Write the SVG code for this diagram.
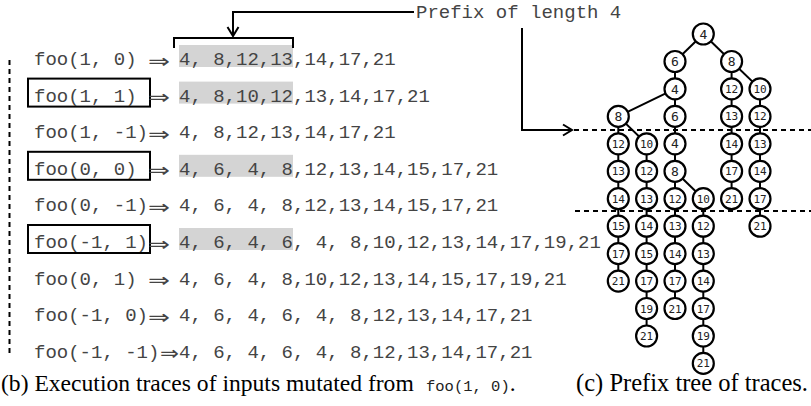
<svg xmlns="http://www.w3.org/2000/svg" width="811" height="406" viewBox="0 0 811 406">
<defs>
<marker id="ah" markerUnits="userSpaceOnUse" markerWidth="14" markerHeight="14" refX="10" refY="6" orient="auto" overflow="visible">
<path d="M1,0.5 L10,6 L1,11.5" fill="none" stroke="#000" stroke-width="2"/>
</marker>
</defs>
<style>
.m{font-family:"Liberation Mono","DejaVu Sans Mono",monospace;font-size:19px;fill:#444}
.ar{font-family:"DejaVu Sans",sans-serif;font-size:20px;fill:#444}
.hl{fill:#d4d4d4}
.bx{fill:none;stroke:#000;stroke-width:2}
.ln{fill:none;stroke:#000;stroke-width:2}
.ds{fill:none;stroke:#000;stroke-width:2;stroke-dasharray:5,4}
.cap{font-family:"Liberation Serif","Times New Roman",serif;font-size:24.5px;fill:#000}
.capb{font-size:23.6px}
.capm{font-family:"Liberation Mono",monospace;font-size:15.5px;fill:#222}
.nd circle{fill:#fff;stroke:#000;stroke-width:2.2}
.nd text{font-family:"DejaVu Sans Mono",monospace;font-size:11px;fill:#222;text-anchor:middle}
.nd text.s{font-size:13px}
.ed line{stroke:#000;stroke-width:2}
</style>

<g id="highlights">
<rect class="hl" x="179" y="45" width="114" height="22"/>
<rect class="hl" x="179" y="81.6" width="114" height="22"/>
<rect class="hl" x="179" y="154.8" width="114" height="22"/>
<rect class="hl" x="179" y="228" width="114" height="22"/>
</g>

<g id="row1"><text class="m" x="34" y="65">foo(1, 0)</text><text class="ar" x="148" y="67.5" textLength="22" lengthAdjust="spacingAndGlyphs">⇒</text><text class="m" x="179" y="65">4, 8,12,13,14,17,21</text></g>
<g id="row2"><rect class="bx" x="28" y="78.6" width="122" height="28"/><text class="m" x="34" y="101.6">foo(1, 1)</text><text class="ar" x="148" y="104.1" textLength="22" lengthAdjust="spacingAndGlyphs">⇒</text><text class="m" x="179" y="101.6">4, 8,10,12,13,14,17,21</text></g>
<g id="row3"><text class="m" x="34" y="138.2">foo(1, -1)</text><text class="ar" x="148" y="140.7" textLength="22" lengthAdjust="spacingAndGlyphs">⇒</text><text class="m" x="179" y="138.2">4, 8,12,13,14,17,21</text></g>
<g id="row4"><rect class="bx" x="28" y="151.8" width="122" height="28"/><text class="m" x="34" y="174.8">foo(0, 0)</text><text class="ar" x="148" y="177.3" textLength="22" lengthAdjust="spacingAndGlyphs">⇒</text><text class="m" x="179" y="174.8">4, 6, 4, 8,12,13,14,15,17,21</text></g>
<g id="row5"><text class="m" x="34" y="211.4">foo(0, -1)</text><text class="ar" x="148" y="213.9" textLength="22" lengthAdjust="spacingAndGlyphs">⇒</text><text class="m" x="179" y="211.4">4, 6, 4, 8,12,13,14,15,17,21</text></g>
<g id="row6"><rect class="bx" x="28" y="225" width="122" height="28"/><text class="m" x="34" y="248">foo(-1, 1)</text><text class="ar" x="148" y="250.5" textLength="22" lengthAdjust="spacingAndGlyphs">⇒</text><text class="m" x="179" y="248">4, 6, 4, 6, 4, 8,10,12,13,14,17,19,21</text></g>
<g id="row7"><text class="m" x="34" y="284.6">foo(0, 1)</text><text class="ar" x="148" y="287.1" textLength="22" lengthAdjust="spacingAndGlyphs">⇒</text><text class="m" x="179" y="284.6">4, 6, 4, 8,10,12,13,14,15,17,19,21</text></g>
<g id="row8"><text class="m" x="34" y="321.2">foo(-1, 0)</text><text class="ar" x="148" y="323.7" textLength="22" lengthAdjust="spacingAndGlyphs">⇒</text><text class="m" x="179" y="321.2">4, 6, 4, 6, 4, 8,12,13,14,17,21</text></g>
<g id="row9"><text class="m" x="34" y="357.8">foo(-1, -1)</text><text class="ar" x="160" y="360.3" textLength="19" lengthAdjust="spacingAndGlyphs">⇒</text><text class="m" x="179" y="357.8">4, 6, 4, 6, 4, 8,12,13,14,17,21</text></g>

<g id="annotations">
<line class="ds" x1="9.5" y1="60" x2="9.5" y2="357" stroke-width="3"/>
<path class="ln" d="M174,48 V38 H293 V48"/>
<path class="ln" d="M414,12 H233 V36" marker-end="url(#ah)"/>
<text class="m" x="416" y="18">Prefix of length 4</text>
<path class="ln" d="M522,28 V130 H572" marker-end="url(#ah)"/>
<line class="ds" x1="574" y1="130" x2="811" y2="130"/>
<line class="ds" x1="575" y1="211" x2="811" y2="211"/>
</g>

<g id="connectors" class="ed">
<line x1="703.3" y1="34" x2="675" y2="61.5"/>
<line x1="703.3" y1="34" x2="731.6" y2="61.5"/>
<line x1="675" y1="61.5" x2="675" y2="88.9"/>
<line x1="675" y1="88.9" x2="618.3" y2="116.4"/>
<line x1="675" y1="88.9" x2="675" y2="116.4"/>
<line x1="731.6" y1="61.5" x2="731.6" y2="88.9"/>
<line x1="731.6" y1="61.5" x2="760" y2="88.9"/>
<line x1="731.6" y1="88.9" x2="731.6" y2="116.4"/>
<line x1="731.6" y1="116.4" x2="731.6" y2="143.8"/>
<line x1="731.6" y1="143.8" x2="731.6" y2="171.3"/>
<line x1="731.6" y1="171.3" x2="731.6" y2="198.7"/>
<line x1="760" y1="88.9" x2="760" y2="116.4"/>
<line x1="760" y1="116.4" x2="760" y2="143.8"/>
<line x1="760" y1="143.8" x2="760" y2="171.3"/>
<line x1="760" y1="171.3" x2="760" y2="198.7"/>
<line x1="760" y1="198.7" x2="760" y2="226.2"/>
<line x1="618.3" y1="116.4" x2="618.3" y2="143.8"/>
<line x1="618.3" y1="116.4" x2="646.6" y2="143.8"/>
<line x1="618.3" y1="143.8" x2="618.3" y2="171.3"/>
<line x1="618.3" y1="171.3" x2="618.3" y2="198.7"/>
<line x1="618.3" y1="198.7" x2="618.3" y2="226.2"/>
<line x1="618.3" y1="226.2" x2="618.3" y2="253.6"/>
<line x1="618.3" y1="253.6" x2="618.3" y2="281.1"/>
<line x1="646.6" y1="143.8" x2="646.6" y2="171.3"/>
<line x1="646.6" y1="171.3" x2="646.6" y2="198.7"/>
<line x1="646.6" y1="198.7" x2="646.6" y2="226.2"/>
<line x1="646.6" y1="226.2" x2="646.6" y2="253.6"/>
<line x1="646.6" y1="253.6" x2="646.6" y2="281.1"/>
<line x1="646.6" y1="281.1" x2="646.6" y2="308.5"/>
<line x1="646.6" y1="308.5" x2="646.6" y2="336"/>
<line x1="675" y1="116.4" x2="675" y2="143.8"/>
<line x1="675" y1="143.8" x2="675" y2="171.3"/>
<line x1="675" y1="171.3" x2="675" y2="198.7"/>
<line x1="675" y1="171.3" x2="703.3" y2="198.7"/>
<line x1="675" y1="198.7" x2="675" y2="226.2"/>
<line x1="675" y1="226.2" x2="675" y2="253.6"/>
<line x1="675" y1="253.6" x2="675" y2="281.1"/>
<line x1="675" y1="281.1" x2="675" y2="308.5"/>
<line x1="703.3" y1="198.7" x2="703.3" y2="226.2"/>
<line x1="703.3" y1="226.2" x2="703.3" y2="253.6"/>
<line x1="703.3" y1="253.6" x2="703.3" y2="281.1"/>
<line x1="703.3" y1="281.1" x2="703.3" y2="308.5"/>
<line x1="703.3" y1="308.5" x2="703.3" y2="336"/>
<line x1="703.3" y1="336" x2="703.3" y2="363.4"/>
</g>

<g id="nodes" class="nd">
<g id="t0"><circle cx="703.3" cy="34" r="10.5"/><text class="s" x="703.3" y="38.6">4</text></g>
<g id="t1"><circle cx="675" cy="61.5" r="10.5"/><text class="s" x="675" y="66.1">6</text></g>
<g id="t2"><circle cx="731.6" cy="61.5" r="10.5"/><text class="s" x="731.6" y="66.1">8</text></g>
<g id="t3"><circle cx="675" cy="88.9" r="10.5"/><text class="s" x="675" y="93.5">4</text></g>
<g id="t4"><circle cx="731.6" cy="88.9" r="10.5"/><text x="731.6" y="92.9">12</text></g>
<g id="t5"><circle cx="760" cy="88.9" r="10.5"/><text x="760" y="92.9">10</text></g>
<g id="t6"><circle cx="618.3" cy="116.4" r="10.5"/><text class="s" x="618.3" y="121">8</text></g>
<g id="t7"><circle cx="675" cy="116.4" r="10.5"/><text class="s" x="675" y="121">6</text></g>
<g id="t8"><circle cx="731.6" cy="116.4" r="10.5"/><text x="731.6" y="120.4">13</text></g>
<g id="t9"><circle cx="760" cy="116.4" r="10.5"/><text x="760" y="120.4">12</text></g>
<g id="t10"><circle cx="618.3" cy="143.8" r="10.5"/><text x="618.3" y="147.8">12</text></g>
<g id="t11"><circle cx="646.6" cy="143.8" r="10.5"/><text x="646.6" y="147.8">10</text></g>
<g id="t12"><circle cx="675" cy="143.8" r="10.5"/><text class="s" x="675" y="148.4">4</text></g>
<g id="t13"><circle cx="731.6" cy="143.8" r="10.5"/><text x="731.6" y="147.8">14</text></g>
<g id="t14"><circle cx="760" cy="143.8" r="10.5"/><text x="760" y="147.8">13</text></g>
<g id="t15"><circle cx="618.3" cy="171.3" r="10.5"/><text x="618.3" y="175.3">13</text></g>
<g id="t16"><circle cx="646.6" cy="171.3" r="10.5"/><text x="646.6" y="175.3">12</text></g>
<g id="t17"><circle cx="675" cy="171.3" r="10.5"/><text class="s" x="675" y="175.9">8</text></g>
<g id="t18"><circle cx="731.6" cy="171.3" r="10.5"/><text x="731.6" y="175.3">17</text></g>
<g id="t19"><circle cx="760" cy="171.3" r="10.5"/><text x="760" y="175.3">14</text></g>
<g id="t20"><circle cx="618.3" cy="198.7" r="10.5"/><text x="618.3" y="202.7">14</text></g>
<g id="t21"><circle cx="646.6" cy="198.7" r="10.5"/><text x="646.6" y="202.7">13</text></g>
<g id="t22"><circle cx="675" cy="198.7" r="10.5"/><text x="675" y="202.7">12</text></g>
<g id="t23"><circle cx="703.3" cy="198.7" r="10.5"/><text x="703.3" y="202.7">10</text></g>
<g id="t24"><circle cx="731.6" cy="198.7" r="10.5"/><text x="731.6" y="202.7">21</text></g>
<g id="t25"><circle cx="760" cy="198.7" r="10.5"/><text x="760" y="202.7">17</text></g>
<g id="t26"><circle cx="618.3" cy="226.2" r="10.5"/><text x="618.3" y="230.2">15</text></g>
<g id="t27"><circle cx="646.6" cy="226.2" r="10.5"/><text x="646.6" y="230.2">14</text></g>
<g id="t28"><circle cx="675" cy="226.2" r="10.5"/><text x="675" y="230.2">13</text></g>
<g id="t29"><circle cx="703.3" cy="226.2" r="10.5"/><text x="703.3" y="230.2">12</text></g>
<g id="t30"><circle cx="760" cy="226.2" r="10.5"/><text x="760" y="230.2">21</text></g>
<g id="t31"><circle cx="618.3" cy="253.6" r="10.5"/><text x="618.3" y="257.6">17</text></g>
<g id="t32"><circle cx="646.6" cy="253.6" r="10.5"/><text x="646.6" y="257.6">15</text></g>
<g id="t33"><circle cx="675" cy="253.6" r="10.5"/><text x="675" y="257.6">14</text></g>
<g id="t34"><circle cx="703.3" cy="253.6" r="10.5"/><text x="703.3" y="257.6">13</text></g>
<g id="t35"><circle cx="618.3" cy="281.1" r="10.5"/><text x="618.3" y="285.1">21</text></g>
<g id="t36"><circle cx="646.6" cy="281.1" r="10.5"/><text x="646.6" y="285.1">17</text></g>
<g id="t37"><circle cx="675" cy="281.1" r="10.5"/><text x="675" y="285.1">17</text></g>
<g id="t38"><circle cx="703.3" cy="281.1" r="10.5"/><text x="703.3" y="285.1">14</text></g>
<g id="t39"><circle cx="646.6" cy="308.5" r="10.5"/><text x="646.6" y="312.5">19</text></g>
<g id="t40"><circle cx="675" cy="308.5" r="10.5"/><text x="675" y="312.5">21</text></g>
<g id="t41"><circle cx="703.3" cy="308.5" r="10.5"/><text x="703.3" y="312.5">17</text></g>
<g id="t42"><circle cx="646.6" cy="336" r="10.5"/><text x="646.6" y="340">21</text></g>
<g id="t43"><circle cx="703.3" cy="336" r="10.5"/><text x="703.3" y="340">19</text></g>
<g id="t44"><circle cx="703.3" cy="363.4" r="10.5"/><text x="703.3" y="367.4">21</text></g>
</g>

<g id="captions">
<text class="cap capb" x="1" y="391">(b) Execution traces of inputs mutated from <tspan class="capm" x="426">foo(1, 0)</tspan>.</text>
<text class="cap" x="808" y="391" text-anchor="end">(c) Prefix tree of traces.</text>
</g>
</svg>
